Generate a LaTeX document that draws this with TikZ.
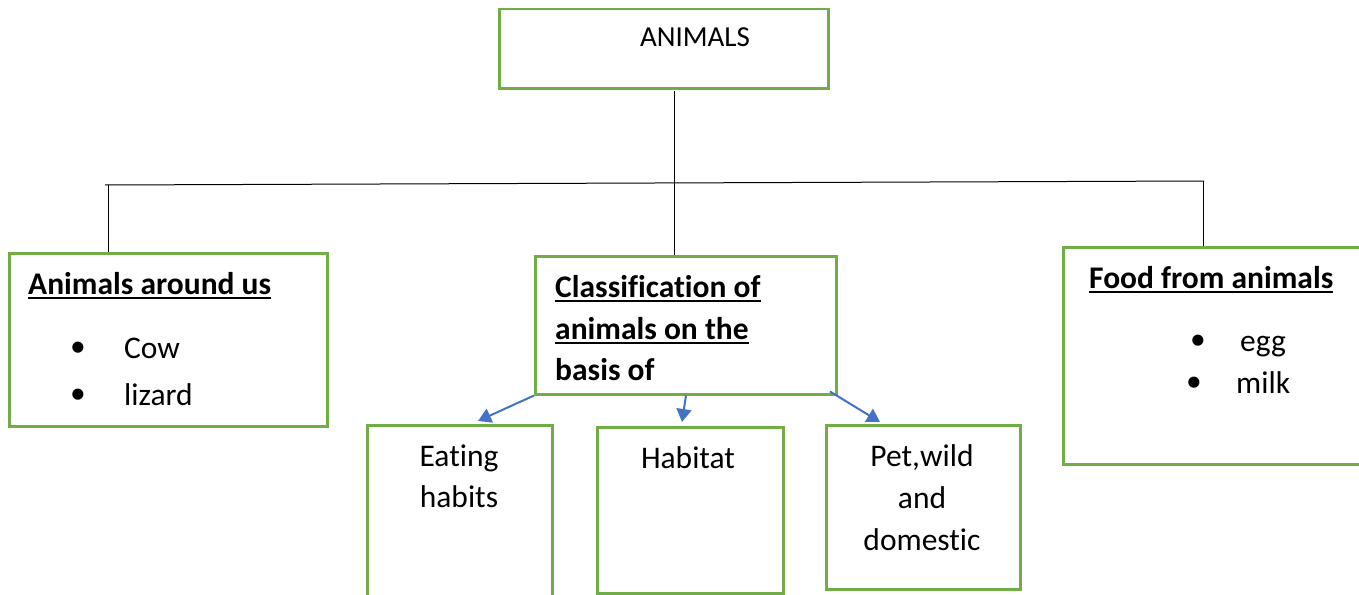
\documentclass[tikz,border=0pt]{standalone}
\usepackage{fontspec}
\setmainfont{Carlito}[Ligatures=NoCommon]
\newcommand\myul[1]{\leavevmode\vtop{\hbox{#1}\kern2.5pt\hrule height 2.6pt}}
\usetikzlibrary{arrows.meta}
\definecolor{boxgreen}{HTML}{70AD47}
\definecolor{arrowblue}{HTML}{4472C4}
\begin{document}
\begin{tikzpicture}[x=1pt,y=-1pt,
 box/.style={draw=boxgreen,line width=2.5pt,rectangle,inner sep=0pt,anchor=north west},
 conn/.style={draw=black,line width=1pt},
 arr/.style={draw=arrowblue,line width=2pt,-{Triangle[length=13pt,width=15pt]}},
 txt/.style={font=\fontsize{31.5}{36}\selectfont,inner sep=0pt},
 ttl/.style={font=\fontsize{31.5}{36}\selectfont\bfseries,inner sep=0pt,anchor=base west},
]
\useasboundingbox (0,0) rectangle (1359,594);
% boxes
\node[box,minimum width=329pt,minimum height=79pt] (animals) at (498,8) {};
\node[box,minimum width=318pt,minimum height=173pt] (around) at (8,252) {};
\node[box,minimum width=301pt,minimum height=138pt] (classif) at (534,255) {};
\node[box,minimum width=300pt,minimum height=217pt] (food) at (1062,246) {};
\node[box,minimum width=185pt,minimum height=185pt] (eating) at (366,424) {};
\node[box,minimum width=186pt,minimum height=166pt] (habitat) at (596,426) {};
\node[box,minimum width=194pt,minimum height=164pt] (pet) at (825,424) {};
% texts
\node[txt,font=\fontsize{29}{34}\selectfont,anchor=base] (tA) at (695,47) {ANIMALS};
\node[ttl] (tB) at (28,294) {\myul{Animals around us}};
\node[txt] (b1) at (78,349) {\textbullet};
\node[txt,anchor=base west] (t1) at (124,358) {Cow};
\node[txt] (b2) at (78,396) {\textbullet};
\node[txt,anchor=base west] (t2) at (124,405) {lizard};
\node[ttl] (tC1) at (555,297) {\myul{Classification of}};
\node[ttl] (tC2) at (555,339) {\myul{animals on the}};
\node[ttl] (tC3) at (555,380) {basis of};
\node[ttl] (tD) at (1089,288) {\myul{Food from animals}};
\node[txt] (b3) at (1198,342) {\textbullet};
\node[txt,anchor=base west] (t3) at (1240,351) {egg};
\node[txt] (b4) at (1194,384) {\textbullet};
\node[txt,anchor=base west] (t4) at (1236,393) {milk};
\node[txt,anchor=base] (tE1) at (459,466) {Eating};
\node[txt,anchor=base] (tE2) at (459,507) {habits};
\node[txt,anchor=base] (tH) at (688,468) {Habitat};
\node[txt,anchor=base] (tP1) at (922,466) {Pet,wild};
\node[txt,anchor=base] (tP2) at (922,508) {and};
\node[txt,anchor=base] (tP3) at (922,550) {domestic};
% connectors
\coordinate (top) at (674,91);
\coordinate (mid) at (674,183);
\coordinate (hl) at (105,185);
\coordinate (hr) at (1204,181);
\coordinate (dl) at (108,185);
\coordinate (dr) at (1203,181);
\draw[conn] (top) -- (mid);
\draw[conn] (hl) -- (hr);
\draw[conn] (dl) -- (dl |- around.north);
\draw[conn] (mid) -- (classif.north -| mid);
\draw[conn] (dr) -- (dr |- food.north);
% arrows
\draw[arr] (classif.south west) -- (478,421);
\draw[arr] ([xshift=152pt]classif.south west) -- (682,422);
\draw[arr] ([xshift=296pt,yshift=4pt]classif.south west) -- (880,422);
\end{tikzpicture}
\end{document}
